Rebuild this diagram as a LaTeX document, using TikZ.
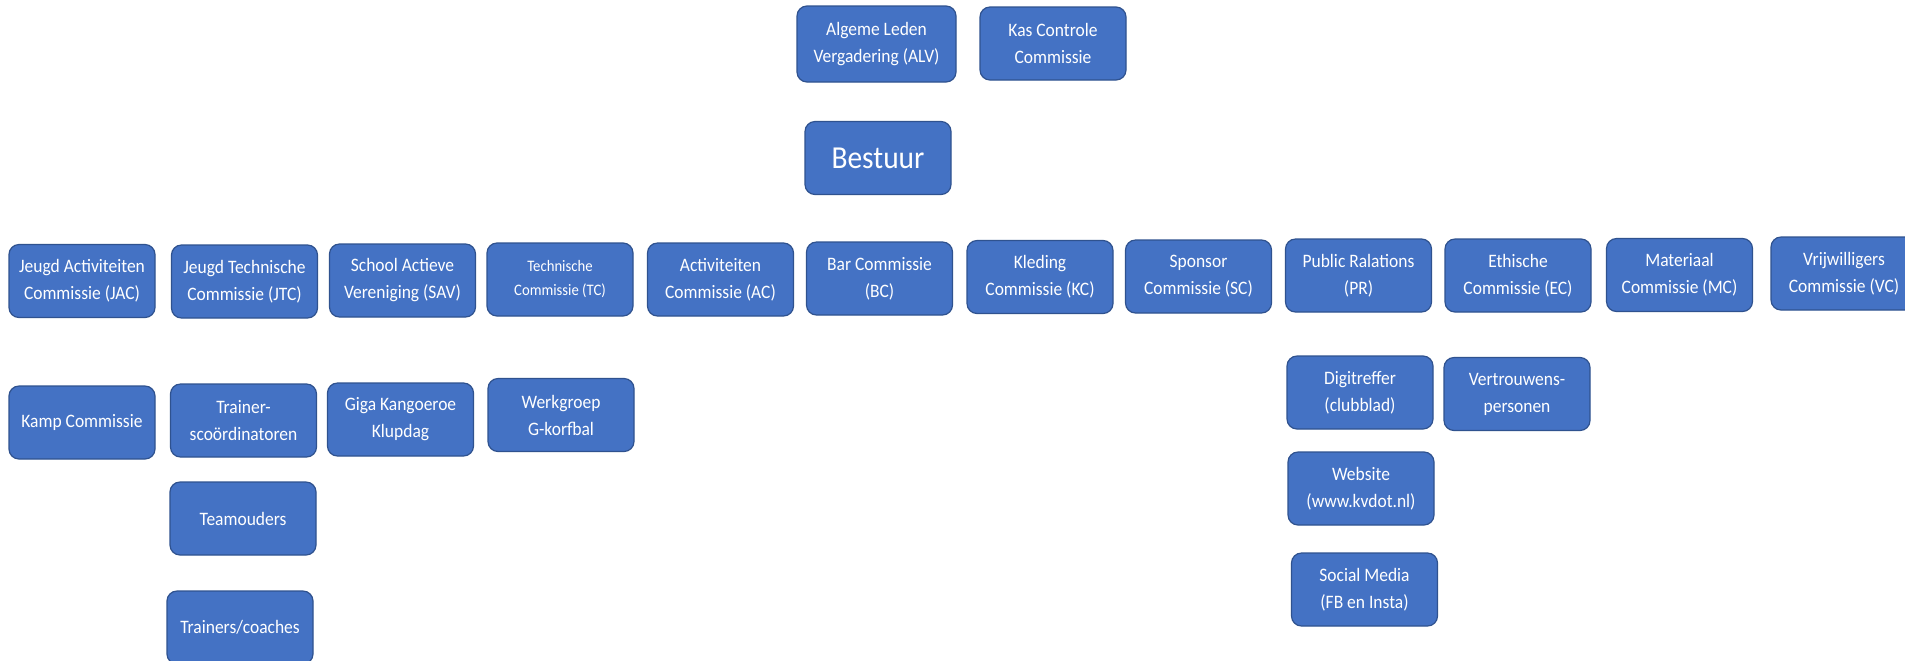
\documentclass[tikz,border=0pt]{standalone}
\usepackage{fontspec}
\setmainfont{Carlito}[FakeStretch=0.92]
\usepackage{tikz}
\usetikzlibrary{positioning}

\definecolor{boxblue}{RGB}{68,114,196}
\definecolor{boxedge}{RGB}{47,82,143}

\tikzset{
    orgbox/.style={draw=boxedge, fill=boxblue, line width=0.6pt, rounded corners=5pt,
        text=white, align=center, inner sep=0pt, minimum width=73pt, minimum height=36.5pt,
        font=\fontsize{9.5}{13.5}\selectfont},
    smalltext/.style={font=\fontsize{8}{12}\selectfont},
    bigtext/.style={font=\fontsize{16}{19}\selectfont}
}

\begin{document}
\begin{tikzpicture}[x=0.5pt, y=-0.5pt]
    % Canvas
    \clip (0,0) rectangle (1905,660);
    \fill[white] (0,0) rectangle (1905,660);

    % Top level
    \node[orgbox, minimum width=79.5pt, minimum height=38pt] (alv) at (876.5,44) {Algeme Leden\\Vergadering (ALV)};
    \node[orgbox] (kas) at (1053,43.5) {Kas Controle\\Commissie};
    \node[orgbox, bigtext] (bestuur) at (878,158) {Bestuur};

    % Commissions
    \node[orgbox] (jac) at (82,281) {Jeugd Activiteiten\\Commissie (JAC)};
    \node[orgbox] (jtc) at (244.5,281.5) {Jeugd Technische\\Commissie (JTC)};
    \node[orgbox] (sav) at (402.5,280.5) {School Actieve\\Vereniging (SAV)};
    \node[orgbox, smalltext] (tc) at (560,279.5) {Technische\\Commissie (TC)};
    \node[orgbox] (ac) at (720.5,279.5) {Activiteiten\\Commissie (AC)};
    \node[orgbox] (bc) at (879.5,278.5) {Bar Commissie\\(BC)};
    \node[orgbox] (kc) at (1040,277) {Kleding\\Commissie (KC)};
    \node[orgbox] (sc) at (1198.5,276.5) {Sponsor\\Commissie (SC)};
    \node[orgbox] (pr) at (1358.5,275.5) {Public Ralations\\(PR)};
    \node[orgbox] (ec) at (1518,275.5) {Ethische\\Commissie (EC)};
    \node[orgbox] (mc) at (1679.5,275) {Materiaal\\Commissie (MC)};
    \node[orgbox] (vc) at (1844,273.5) {Vrijwilligers\\Commissie (VC)};

    % Sub groups
    \node[orgbox] (kamp) at (82,422.5) {Kamp Commissie};
    \node[orgbox] (trainerco) at (243.5,420.5) {Trainer-\\scoördinatoren};
    \node[orgbox] (teamouders) at (243,518.5) {Teamouders};
    \node[orgbox] (trainers) at (240,627.5) {Trainers/coaches};
    \node[orgbox] (giga) at (400.5,419.5) {Giga Kangoeroe\\Klupdag};
    \node[orgbox] (werkgroep) at (561,415) {Werkgroep\\G-korfbal};
    \node[orgbox] (digi) at (1360,392.5) {Digitreffer\\(clubblad)};
    \node[orgbox] (website) at (1361,488.5) {Website\\(www.kvdot.nl)};
    \node[orgbox] (social) at (1364.5,589.5) {Social Media\\(FB en Insta)};
    \node[orgbox] (vertrouwen) at (1517,394) {Vertrouwens-\\personen};
\end{tikzpicture}
\end{document}
